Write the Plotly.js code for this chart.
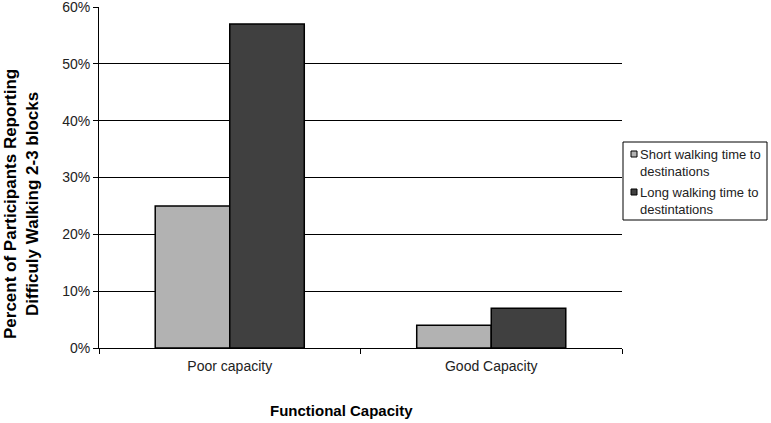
<!DOCTYPE html>
<html>
<head>
<meta charset="utf-8">
<script src="https://cdn.plot.ly/plotly-3.0.1.min.js"></script>
<style>html,body{margin:0;padding:0;background:#fff;}#chart{width:771px;height:423px;}</style>
</head>
<body>
<div id="chart"></div>
<script>
const categories = ["Poor capacity", "Good Capacity"];
const seriesNames = ["Short walking time to<br>destinations", "Long walking time to<br>destintations"];
const seriesColors = ["#b2b2b2", "#404040"];
const shortWalk = [0.25, 0.04];
const longWalk = [0.57, 0.07];
const yTickVals = [0, 0.1, 0.2, 0.3, 0.4, 0.5, 0.6];
const xTitle = "Functional Capacity";
const yTitle = "Percent of Participants Reporting<br>Difficuly Walking 2-3 blocks";

const traces = [
  {type: "bar", x: categories, y: shortWalk, name: seriesNames[0],
   marker: {color: seriesColors[0], line: {color: "#000", width: 1.5}}},
  {type: "bar", x: categories, y: longWalk, name: seriesNames[1],
   marker: {color: seriesColors[1], line: {color: "#000", width: 1.5}}}
];

// Hand-drawn legend (box, swatches, labels) placed right of the plot area
const L = 99, R = 622, T = 7, B = 348;
const px = v => (v - L) / (R - L);
const py = v => (B - v) / (B - T);
const shapes = [
  {type: "rect", xref: "paper", yref: "paper", x0: px(623), x1: px(767), y0: py(220), y1: py(142),
   line: {color: "#000", width: 1}, fillcolor: "#fff", layer: "above"},
  {type: "rect", xref: "paper", yref: "paper", x0: px(631), x1: px(637), y0: py(157), y1: py(151),
   line: {color: "#000", width: 1}, fillcolor: seriesColors[0], layer: "above"},
  {type: "rect", xref: "paper", yref: "paper", x0: px(631), x1: px(637), y0: py(195), y1: py(189),
   line: {color: "#000", width: 1}, fillcolor: seriesColors[1], layer: "above"}
];
const annotations = [
  {xref: "paper", yref: "paper", x: px(638), y: py(163), xanchor: "left", yanchor: "middle",
   text: seriesNames[0], showarrow: false, align: "left", font: {size: 13, color: "#222"}},
  {xref: "paper", yref: "paper", x: px(638), y: py(201), xanchor: "left", yanchor: "middle",
   text: seriesNames[1], showarrow: false, align: "left", font: {size: 13, color: "#222"}},
  {xref: "paper", yref: "paper", x: px(341), y: py(410), xanchor: "center", yanchor: "middle",
   text: "<b>" + xTitle + "</b>", showarrow: false, font: {size: 15, color: "#000"}},
  {xref: "paper", yref: "paper", x: px(22), y: py(204), xanchor: "center", yanchor: "middle",
   textangle: -90, text: "<b>" + yTitle + "</b>", showarrow: false, font: {size: 17, color: "#000"}}
];

const layout = {
  width: 771, height: 423,
  margin: {l: L, r: 771 - R, t: T, b: 423 - B},
  paper_bgcolor: "#fff", plot_bgcolor: "#fff",
  font: {family: "Liberation Sans, Arial, sans-serif", color: "#222", size: 14},
  barmode: "group", bargap: 0.43, bargroupgap: 0,
  showlegend: false,
  shapes: shapes,
  annotations: annotations,
  xaxis: {
    showline: true, linecolor: "#000", linewidth: 1,
    ticks: "outside", tickson: "boundaries", ticklen: 5, tickcolor: "#000",
    ticklabelstandoff: 5,
    tickfont: {size: 14, color: "#222"}
  },
  yaxis: {
    range: [0, 0.6], tickvals: yTickVals, tickformat: ".0%",
    showline: true, linecolor: "#000", linewidth: 1,
    ticks: "outside", ticklen: 5, tickcolor: "#000",
    ticklabeloverflow: "allow",
    showgrid: true, gridcolor: "#000", gridwidth: 1,
    zeroline: false,
    tickfont: {size: 14, color: "#222"}
  }
};

Plotly.newPlot("chart", traces, layout, {displayModeBar: false, staticPlot: true});
</script>
</body>
</html>
